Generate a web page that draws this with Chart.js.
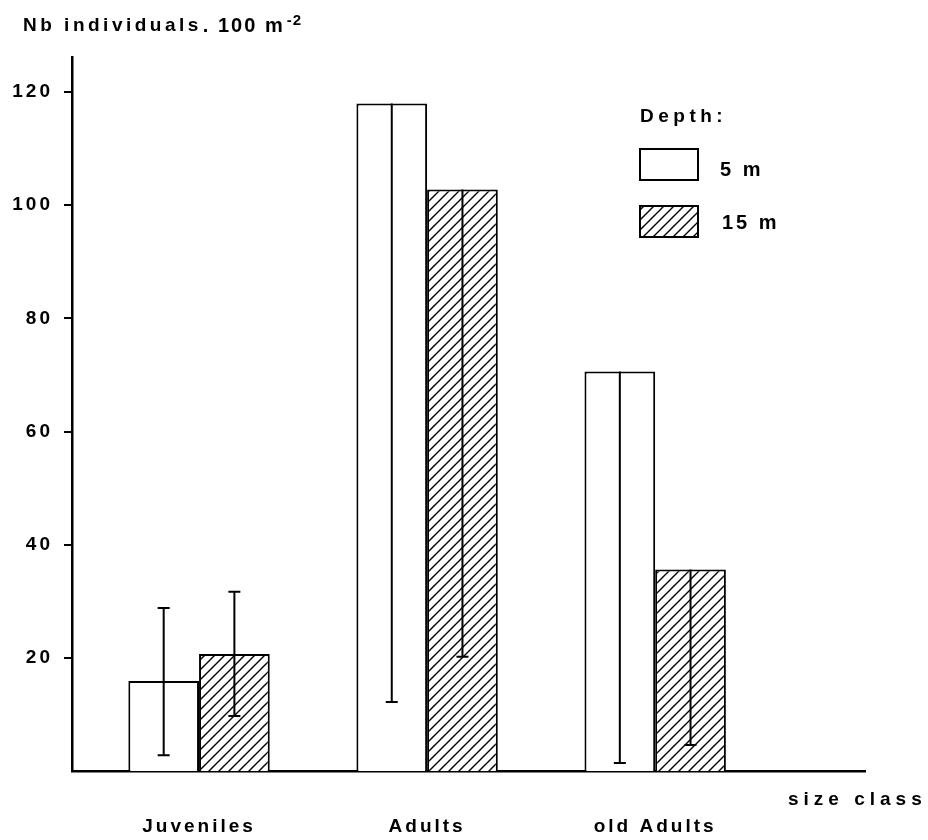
<!DOCTYPE html>
<html>
<head>
<meta charset="utf-8">
<script src="https://cdn.jsdelivr.net/npm/chart.js@4/dist/chart.umd.min.js"></script>
<style>
  html, body { margin: 0; padding: 0; background: #fff; }
</style>
</head>
<body>
<canvas id="sizeClass" width="928" height="840"></canvas>
<script>
const categories = ['Juveniles', 'Adults', 'old Adults'];
const depth5 = [15.9, 118, 70.6];
const depth15 = [20.7, 102.8, 35.6];
// error bars: lower end and upper end (null = stops at top of bar)
const err5Low = [2.8, 12.2, 1.4];
const err5High = [28.8, null, null];
const err15Low = [9.7, 20.2, 4.6];
const err15High = [31.7, null, null];
const yTicks = [20, 40, 60, 80, 100, 120];

const FONT = '"Liberation Sans", Arial, sans-serif';

// diagonal hatch for the 15 m bars
function makeHatch() {
  const tile = document.createElement('canvas');
  tile.width = tile.height = 10;
  const t = tile.getContext('2d');
  t.fillStyle = '#fff';
  t.fillRect(0, 0, 10, 10);
  t.strokeStyle = '#000';
  t.lineWidth = 1.4;
  t.beginPath();
  t.moveTo(-1, 11); t.lineTo(11, -1);
  t.moveTo(-1, 1); t.lineTo(1, -1);
  t.moveTo(9, 11); t.lineTo(11, 9);
  t.stroke();
  return t.createPattern(tile, 'repeat');
}
const hatch = makeHatch();

// the old typewriter-ish lettering is widely spaced
const spacing = {
  id: 'spacing',
  beforeLayout(chart) { chart.ctx.letterSpacing = '3px'; },
  beforeDraw(chart) { chart.ctx.letterSpacing = '3px'; }
};

const errorBars = {
  id: 'errorBars',
  afterDatasetsDraw(chart) {
    const { ctx, scales: { y } } = chart;
    const sets = [[depth5, err5Low, err5High], [depth15, err15Low, err15High]];
    ctx.save();
    ctx.strokeStyle = '#000';
    ctx.lineWidth = 2;
    sets.forEach(([vals, lows, highs], d) => {
      chart.getDatasetMeta(d).data.forEach((bar, i) => {
        const top = y.getPixelForValue(highs[i] ?? vals[i]);
        const bot = y.getPixelForValue(lows[i]);
        ctx.beginPath();
        ctx.moveTo(bar.x, top);
        ctx.lineTo(bar.x, bot);
        ctx.moveTo(bar.x - 6, bot);
        ctx.lineTo(bar.x + 6, bot);
        if (highs[i] != null) {
          ctx.moveTo(bar.x - 6, top);
          ctx.lineTo(bar.x + 6, top);
        }
        ctx.stroke();
      });
    });
    ctx.restore();
  }
};

// axis titles and the legend box
const extras = {
  id: 'extras',
  afterDraw(chart) {
    const ctx = chart.ctx;
    ctx.save();
    ctx.fillStyle = '#000';
    ctx.textBaseline = 'alphabetic';
    ctx.textAlign = 'left';

    ctx.letterSpacing = '3.5px';
    ctx.font = 'bold 19px ' + FONT;
    ctx.fillText('Nb individuals', 23, 31);
    let x = 23 + ctx.measureText('Nb individuals').width + 1;
    ctx.letterSpacing = '2px';
    ctx.font = 'bold 20px ' + FONT;
    ctx.fillText('. 100 m', x, 32);
    x += ctx.measureText('. 100 m').width + 2;
    ctx.letterSpacing = '1px';
    ctx.font = 'bold 15px ' + FONT;
    ctx.fillText('-2', x, 25);

    ctx.letterSpacing = '5px';
    ctx.font = 'bold 19px ' + FONT;
    ctx.fillText('size class', 788, 805);

    // legend
    ctx.letterSpacing = '4.5px';
    ctx.fillText('Depth:', 640, 122);
    ctx.lineWidth = 2;
    ctx.strokeStyle = '#000';
    ctx.fillStyle = '#fff';
    ctx.fillRect(640, 149, 58, 31);
    ctx.strokeRect(640, 149, 58, 31);
    ctx.fillStyle = hatch;
    ctx.fillRect(640, 206, 58, 31);
    ctx.strokeRect(640, 206, 58, 31);
    ctx.fillStyle = '#000';
    ctx.letterSpacing = '3px';
    ctx.font = 'bold 20px ' + FONT;
    ctx.fillText('5 m', 720, 176);
    ctx.fillText('15 m', 722, 229);
    ctx.restore();
  }
};

new Chart(document.getElementById('sizeClass'), {
  type: 'bar',
  data: {
    datasets: [
      {
        label: '5 m',
        data: depth5.map((v, i) => ({ x: i, y: v })),
        backgroundColor: '#fff',
        borderColor: '#000',
        borderWidth: 2,
        categoryPercentage: 0.62,
        barPercentage: 1
      },
      {
        label: '15 m',
        data: depth15.map((v, i) => ({ x: i, y: v })),
        backgroundColor: hatch,
        borderColor: '#000',
        borderWidth: 2,
        categoryPercentage: 0.62,
        barPercentage: 1
      }
    ]
  },
  options: {
    responsive: false,
    animation: false,
    layout: { padding: { top: 57, right: 63, left: 0, bottom: 0 } },
    plugins: {
      legend: { display: false },
      tooltip: { enabled: false }
    },
    scales: {
      x: {
        type: 'linear',
        offset: false,
        min: -0.557,
        max: 2.92,
        afterBuildTicks: s => { s.ticks = categories.map((c, i) => ({ value: i })); },
        afterFit: s => { s.height = 69; },
        grid: { display: false, offset: false },
        border: { display: true, color: '#000', width: 2.5 },
        ticks: {
          padding: 36,
          color: '#000',
          font: { family: FONT, size: 19, weight: 'bold' },
          callback: v => categories[v]
        }
      },
      y: {
        min: 0,
        max: 126.2,
        afterBuildTicks: s => { s.ticks = yTicks.map(v => ({ value: v })); },
        afterFit: s => { s.width = 72; },
        grid: { drawOnChartArea: false, drawTicks: true, tickLength: 8, color: '#000', lineWidth: 2 },
        border: { display: true, color: '#000', width: 2.5 },
        ticks: {
          padding: 11,
          color: '#000',
          font: { family: FONT, size: 19, weight: 'bold' }
        }
      }
    }
  },
  plugins: [spacing, errorBars, extras]
});
</script>
</body>
</html>
